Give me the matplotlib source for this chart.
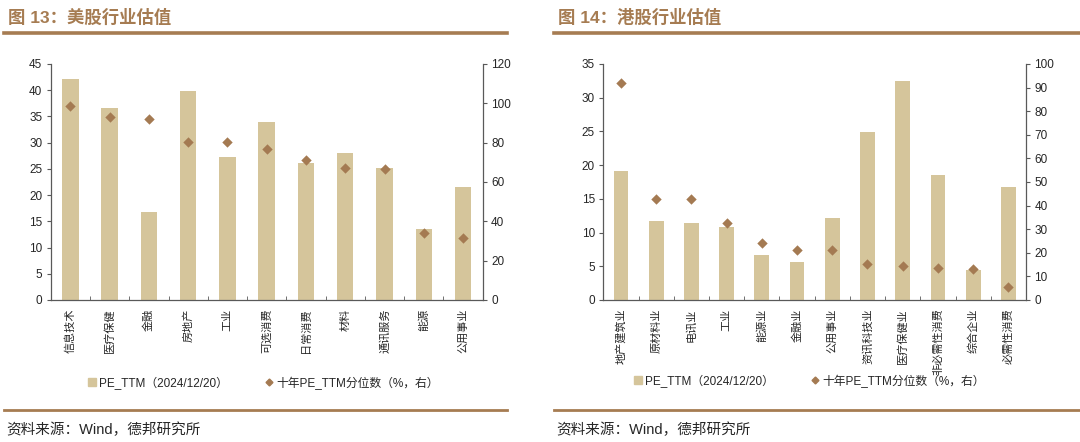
import numpy as np
import matplotlib.pyplot as plt
from matplotlib.lines import Line2D

plt.rcParams['font.family'] = ['Liberation Sans', 'Noto Sans CJK SC', 'DejaVu Sans']

# ---- data ----
us_names = ['信息技术', '医疗保健', '金融', '房地产', '工业', '可选消费',
            '日常消费', '材料', '通讯服务', '能源', '公用事业']
us_pe    = [42.2, 36.7, 16.7, 39.8, 27.2, 34.0, 26.1, 28.1, 25.1, 13.5, 21.5]
us_pct   = [98.5, 93.3, 92.1, 80.3, 80.3, 76.8, 71.4, 67.2, 66.7, 33.9, 31.6]

hk_names = ['地产建筑业', '原材料业', '电讯业', '工业', '能源业', '金融业',
            '公用事业', '资讯科技业', '医疗保健业', '非必需性消费', '综合企业', '必需性消费']
hk_pe    = [19.1, 11.7, 11.4, 10.8, 6.7, 5.6, 12.1, 24.9, 32.5, 18.6, 4.5, 16.7]
hk_pct   = [92.1, 43.0, 42.8, 32.5, 24.3, 21.3, 21.0, 15.4, 14.6, 13.4, 13.0, 5.5]

bar_label = 'PE_TTM（2024/12/20）'
dot_label = '十年PE_TTM分位数（%，右）'

BAR = '#D5C59B'
DOT = '#A47A52'
BROWN = '#A67C52'
SPINE = '#595959'
TXT = '#262626'

W, H = 1080, 442


def fx(px):
    return px / W


def fy(py):
    return 1 - py / H


def draw_panel(fig, rect, names, pe, pct, ylim_l, step_l, ylim_r, step_r):
    ax = fig.add_axes(rect)
    n = len(names)
    x = np.arange(n)
    ax.bar(x, pe, width=0.42, color=BAR, zorder=2)
    ax.set_xlim(-0.5, n - 0.5)
    ax.set_ylim(0, ylim_l)
    ax.set_yticks(np.arange(0, ylim_l + 0.1, step_l))
    ax.set_xticks(x)
    ax.set_xticklabels(names, rotation=90, fontsize=8, color=TXT)
    ax.tick_params(axis='x', length=0, pad=6)
    ax.set_xticks(np.arange(0.5, n - 1, 1), minor=True)
    ax.tick_params(axis='x', which='minor', direction='in', length=3, color=SPINE)
    ax.tick_params(axis='y', direction='out', length=3, color=SPINE, labelsize=8.5, labelcolor=TXT, pad=3)
    for s in ['left', 'bottom']:
        ax.spines[s].set_color(SPINE)
        ax.spines[s].set_linewidth(0.9)
    ax.spines['top'].set_visible(False)
    ax.spines['right'].set_visible(False)

    ax2 = ax.twinx()
    ax2.scatter(x, pct, marker='D', s=28, color=DOT, zorder=3, linewidths=0)
    ax2.set_ylim(0, ylim_r)
    ax2.set_yticks(np.arange(0, ylim_r + 0.1, step_r))
    ax2.tick_params(axis='y', direction='out', length=3, color=SPINE, labelsize=8.5, labelcolor=TXT, pad=3)
    ax2.spines['right'].set_color(SPINE)
    ax2.spines['right'].set_linewidth(0.9)
    for s in ['top', 'left', 'bottom']:
        ax2.spines[s].set_visible(False)
    return ax, ax2


fig = plt.figure(figsize=(W / 100, H / 100), dpi=100)

bot, top = fy(300), fy(64)
draw_panel(fig, [fx(50.7), bot, fx(482.7) - fx(50.7), top - bot],
           us_names, us_pe, us_pct, 45, 5, 120, 20)
draw_panel(fig, [fx(603.3), bot, fx(1026) - fx(603.3), top - bot],
           hk_names, hk_pe, hk_pct, 35, 5, 100, 10)

# headers, rules, sources
for x0, x1, title in [(4, 507, '图 13：美股行业估值'), (554, 1080, '图 14：港股行业估值')]:
    fig.text(fx(x0 + 4), fy(17), title, fontsize=12.5, fontweight='bold',
             color=BROWN, va='center', ha='left')
    fig.add_artist(Line2D([fx(x0), fx(x1)], [fy(33), fy(33)], color=BROWN, lw=2.6))
    fig.add_artist(Line2D([fx(x0), fx(x1)], [fy(410), fy(410)], color=BROWN, lw=2.0))
    fig.text(fx(x0 + 2), fy(430), '资料来源：Wind，德邦研究所', fontsize=10.5,
             color=TXT, va='center', ha='left')

# legends
handles = [Line2D([], [], marker='s', color=BAR, ls='none', markersize=6),
           Line2D([], [], marker='D', color=DOT, ls='none', markersize=3.5)]
for cx, cy in [(262, 383), (808, 381)]:
    fig.legend(handles, [bar_label, dot_label], loc='center', bbox_to_anchor=(fx(cx), fy(cy)),
               ncol=2, frameon=False, fontsize=8.5, handletextpad=0.1, columnspacing=3.0,
               handlelength=1.0, labelcolor=TXT)

fig.savefig('out.png', dpi=100)
